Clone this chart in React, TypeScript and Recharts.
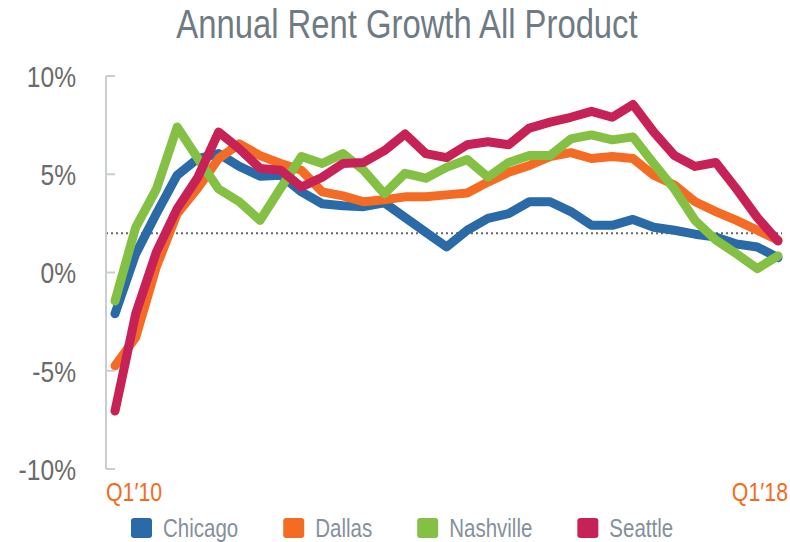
import React from "react";
import { LineChart, Line, XAxis, YAxis, ReferenceLine, Legend } from "recharts";

const quarters = [
  "Q1′10", "Q2′10", "Q3′10", "Q4′10",
  "Q1′11", "Q2′11", "Q3′11", "Q4′11",
  "Q1′12", "Q2′12", "Q3′12", "Q4′12",
  "Q1′13", "Q2′13", "Q3′13", "Q4′13",
  "Q1′14", "Q2′14", "Q3′14", "Q4′14",
  "Q1′15", "Q2′15", "Q3′15", "Q4′15",
  "Q1′16", "Q2′16", "Q3′16", "Q4′16",
  "Q1′17", "Q2′17", "Q3′17", "Q4′17",
  "Q1′18",
];

const chicago = [-2.1, 0.95, 3.0, 4.95, 5.8, 6.05, 5.4, 4.9, 4.95, 4.1, 3.5, 3.4, 3.35, 3.55, 2.8, 2.05, 1.3, 2.15, 2.75, 3.0, 3.6, 3.6, 3.1, 2.4, 2.4, 2.7, 2.3, 2.15, 1.95, 1.8, 1.45, 1.3, 0.75];
const dallas = [-4.75, -3.3, 0.3, 3.0, 4.3, 5.8, 6.55, 5.95, 5.55, 5.2, 4.1, 3.9, 3.6, 3.7, 3.85, 3.85, 3.95, 4.05, 4.6, 5.1, 5.45, 5.9, 6.1, 5.8, 5.9, 5.8, 4.95, 4.45, 3.6, 3.1, 2.65, 2.15, 1.65];
const nashville = [-1.45, 2.3, 4.25, 7.4, 5.8, 4.25, 3.6, 2.65, 4.3, 5.9, 5.55, 6.05, 5.2, 4.0, 5.05, 4.8, 5.35, 5.75, 4.85, 5.6, 5.95, 5.95, 6.8, 7.0, 6.75, 6.9, 5.55, 4.25, 2.65, 1.65, 0.95, 0.2, 0.85];
const seattle = [-7.05, -2.1, 1.05, 3.25, 4.85, 7.15, 6.3, 5.3, 5.2, 4.35, 4.85, 5.55, 5.6, 6.2, 7.05, 6.05, 5.85, 6.5, 6.65, 6.5, 7.35, 7.65, 7.9, 8.2, 7.9, 8.55, 7.15, 5.95, 5.4, 5.6, 4.25, 2.8, 1.6];

const yTicks = [-10, -5, 0, 5, 10];
const xTicks = ["Q1′10", "Q1′18"];
const threshold = 2;

const series = [
  { key: "Chicago", values: chicago, color: "#2a6aa6" },
  { key: "Dallas", values: dallas, color: "#f46b24" },
  { key: "Nashville", values: nashville, color: "#84c043" },
  { key: "Seattle", values: seattle, color: "#c62257" },
];

const data = quarters.map((q, i) => {
  const row: Record<string, string | number> = { q };
  series.forEach((s) => (row[s.key] = s.values[i]));
  return row;
});

// no Arial Narrow here, so squeeze Liberation Sans horizontally
const FONT = "'Liberation Sans', Arial, sans-serif";
const NARROW = 0.82;
const AXIS = "#c9ced3";

const ctx = typeof document !== "undefined" ? document.createElement("canvas").getContext("2d") : null;
function textWidth(s: string, size: number) {
  if (!ctx) return s.length * size * 0.45;
  ctx.font = `${size}px 'Liberation Sans'`;
  return ctx.measureText(s).width * NARROW;
}

function YTick(props: any) {
  const { x, y, payload } = props;
  return (
    <g>
      <line x1={x + 30} x2={x + 39} y1={y} y2={y} stroke={AXIS} strokeWidth={2} />
      <text
        transform={`translate(${x},${y}) scale(${NARROW},1)`}
        dy="0.36em"
        textAnchor="end"
        fontSize={30}
        fontFamily={FONT}
        fill="#6b6b6b"
      >
        {payload.value}%
      </text>
    </g>
  );
}

function XTick(props: any) {
  const { x, y, payload } = props;
  const first = payload.value === xTicks[0];
  return (
    <text
      transform={`translate(${first ? x - 9 : x + 10},${y + 24}) scale(${NARROW},1)`}
      textAnchor={first ? "start" : "end"}
      fontSize={26}
      fontFamily={FONT}
      fill="#f26b21"
    >
      {payload.value}
    </text>
  );
}

function LegendContent() {
  let cx = 131;
  const items = series.map((s) => {
    const x = cx;
    cx += 21 + 11 + textWidth(s.key, 25) + 45;
    return (
      <g key={s.key}>
        <rect x={x} y={8} width={21} height={20} rx={3} fill={s.color} />
        <text
          transform={`translate(${x + 32},27) scale(${NARROW},1)`}
          fontSize={25}
          fontFamily={FONT}
          fill="#86909a"
        >
          {s.key}
        </text>
      </g>
    );
  });
  return (
    <svg width={790} height={32} style={{ display: "block" }}>
      {items}
    </svg>
  );
}

export default function App() {
  return (
    <div style={{ position: "absolute", left: 0, top: 0, width: 790, height: 542, background: "#fff" }}>
      <div
        style={{
          position: "absolute",
          left: 0,
          top: 4,
          width: 814,
          textAlign: "center",
          fontFamily: FONT,
          fontSize: 40,
          lineHeight: "40px",
          color: "#6e7b84",
          whiteSpace: "nowrap",
          transform: `scaleX(${NARROW})`,
          transformOrigin: "407px 0",
        }}
      >
        Annual Rent Growth All Product
      </div>
      <LineChart width={790} height={542} data={data} margin={{ top: 76, right: 8, bottom: 43, left: 0 }}>
        <XAxis
          dataKey="q"
          ticks={xTicks}
          interval={0}
          axisLine={false}
          tickLine={false}
          height={30}
          padding={{ left: 9, right: 4 }}
          tick={<XTick />}
        />
        <YAxis
          domain={[-10, 10]}
          ticks={yTicks}
          width={106}
          axisLine={{ stroke: AXIS, strokeWidth: 2 }}
          tickLine={false}
          tickSize={0}
          tickMargin={30}
          tick={<YTick />}
        />
        <ReferenceLine y={threshold} stroke="#666" strokeWidth={2} strokeDasharray="2 3" />
        {series.map((s) => (
          <Line
            key={s.key}
            dataKey={s.key}
            stroke={s.color}
            strokeWidth={9}
            strokeLinejoin="round"
            strokeLinecap="round"
            dot={false}
            type="linear"
            isAnimationActive={false}
          />
        ))}
        <Legend
          verticalAlign="middle"
          content={<LegendContent />}
          wrapperStyle={{ top: 510, left: 0, width: 790, height: 32 }}
        />
      </LineChart>
    </div>
  );
}
